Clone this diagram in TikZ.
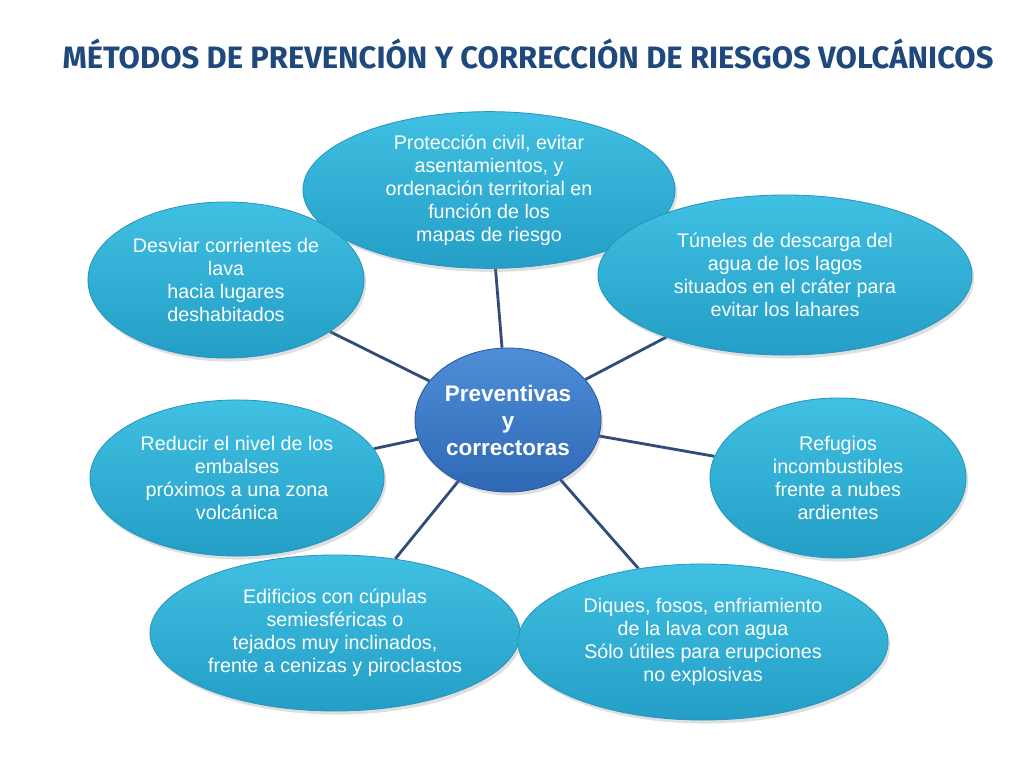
\documentclass[tikz,border=0pt]{standalone}
\usepackage{fontspec}
\setmainfont{Liberation Sans}
\newfontfamily\titlefont{Fira Sans}
\usepackage{tikz}
\usetikzlibrary{shapes,backgrounds,shadows}
\definecolor{bubbletop}{RGB}{64,192,226}
\definecolor{bubblebot}{RGB}{36,158,198}
\definecolor{bubbleline}{RGB}{40,150,190}
\definecolor{hubtop}{RGB}{78,142,216}
\definecolor{hubbot}{RGB}{46,104,180}
\definecolor{hubline}{RGB}{40,88,160}
\definecolor{spoke}{RGB}{48,76,122}
\definecolor{titleblue}{RGB}{31,73,125}
\tikzset{
  idea/.style={ellipse,draw=bubbleline,top color=bubbletop,bottom color=bubblebot,
    line width=0.6pt,inner sep=0pt,
    text=white,align=center,font=\fontsize{14}{16.4}\selectfont,
    drop shadow={opacity=0.25,shadow xshift=1.5pt,shadow yshift=-2.5pt}},
  hubnode/.style={idea,draw=hubline,top color=hubtop,bottom color=hubbot,
    font=\fontsize{16}{19.2}\selectfont\bfseries},
  spokeline/.style={draw=spoke,line width=2pt}
}
\begin{document}
\begin{tikzpicture}[x=0.025cm,y=-0.025cm]
\useasboundingbox (0,0) rectangle (1024,768);

\node (T) at (528,54) {\titlefont\bfseries\fontsize{22}{26}\selectfont\color{titleblue}MÉTODOS DE PREVENCIÓN Y CORRECCIÓN DE RIESGOS VOLCÁNICOS};

\node (p2) at (489,190)[idea,minimum width=9.3cm,minimum height=3.9cm] {Protección civil, evitar\\asentamientos, y\\ordenación territorial en\\función de los\\mapas de riesgo};
\node (p1) at (226,280)[idea,minimum width=6.9cm,minimum height=3.9cm] {Desviar corrientes de\\lava\\hacia lugares\\deshabitados};
\node (p3) at (785,275)[idea,minimum width=9.35cm,minimum height=4cm] {Túneles de descarga del\\agua de los lagos\\situados en el cráter para\\evitar los lahares};
\node (p4) at (237,478)[idea,minimum width=7.35cm,minimum height=3.9cm] {Reducir el nivel de los\\embalses\\próximos a una zona\\volcánica};
\node (p5) at (838,478)[idea,minimum width=6.4cm,minimum height=4cm] {Refugios\\incombustibles\\frente a nubes\\ardientes};
\node (p6) at (335,633)[idea,minimum width=9.25cm,minimum height=3.9cm] {Edificios con cúpulas\\semiesféricas o\\tejados muy inclinados,\\frente a cenizas y piroclastos};
\node (p7) at (703,642)[idea,minimum width=9.25cm,minimum height=3.9cm] {Diques, fosos, enfriamiento\\de la lava con agua\\Sólo útiles para erupciones\\no explosivas};
\node (C) at (508,420)[hubnode,minimum width=4.65cm,minimum height=3.6cm] {Preventivas\\y\\correctoras};

\begin{scope}[on background layer]
\draw[spokeline] (C) to (p1);
\draw[spokeline] (C) to (p2);
\draw[spokeline] (C) to (p3);
\draw[spokeline] (C) to (p4);
\draw[spokeline] (C) to (p5);
\draw[spokeline] (C) to (p6);
\draw[spokeline] (C) to (p7);
\end{scope}
\end{tikzpicture}
\end{document}
